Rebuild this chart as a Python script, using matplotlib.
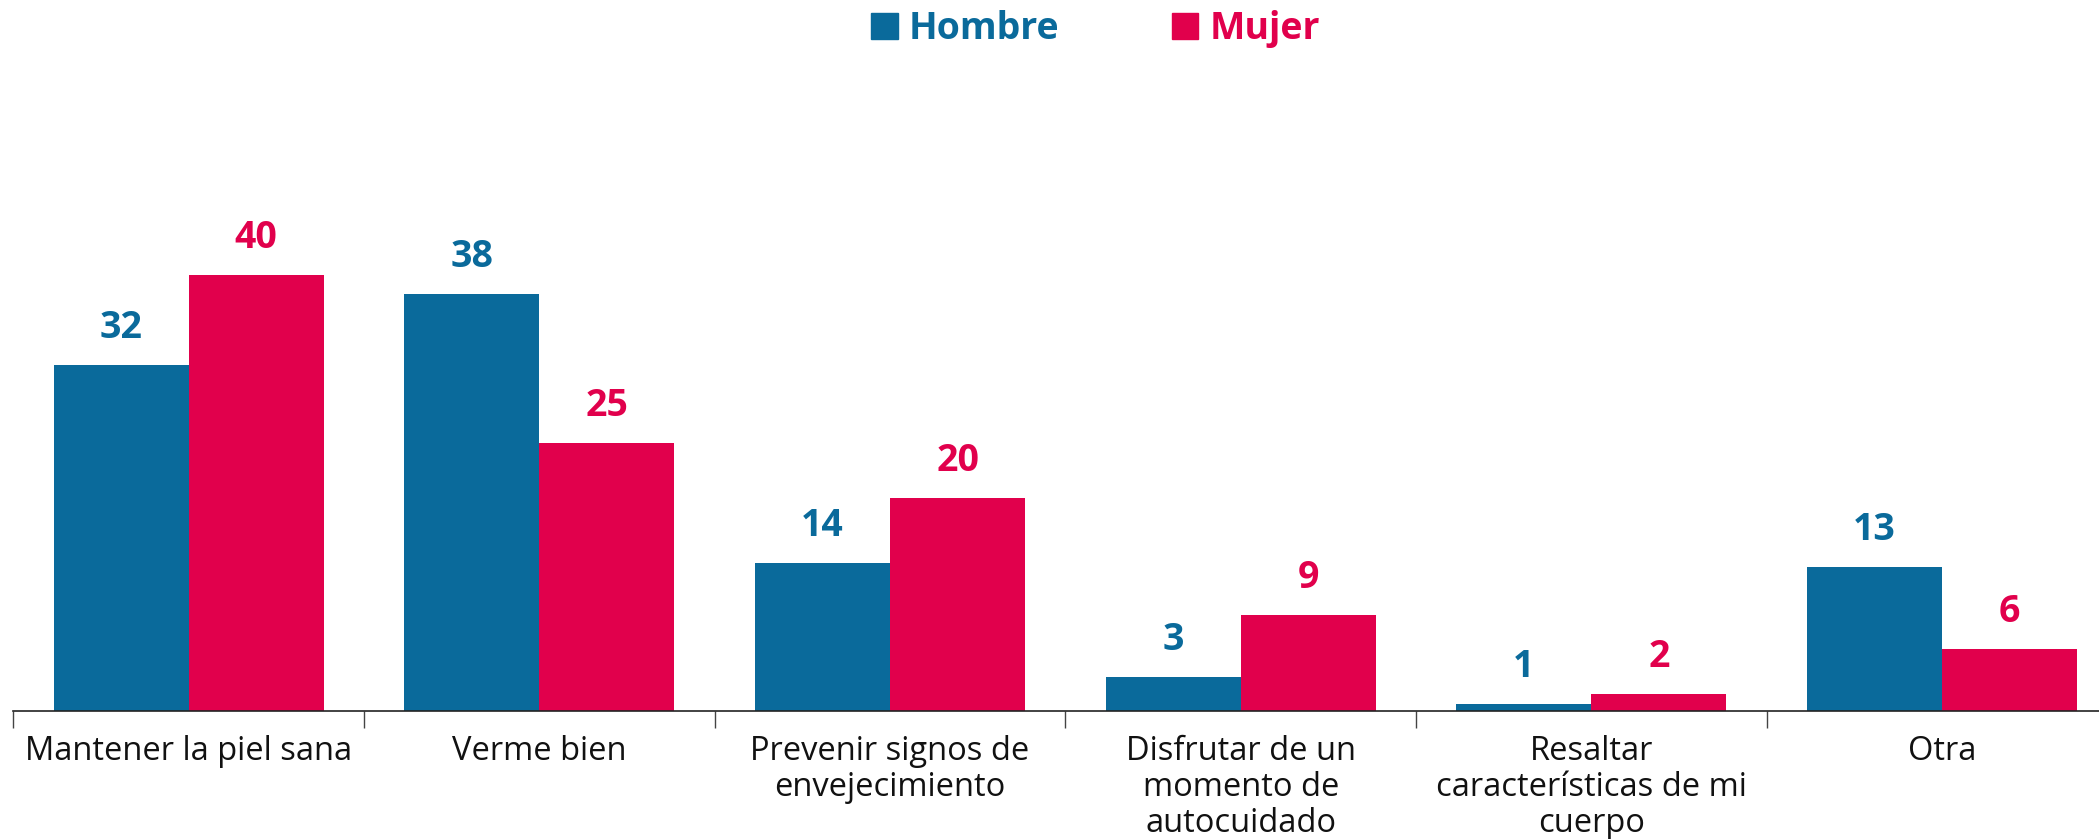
import numpy as np
import matplotlib.pyplot as plt
from matplotlib.patches import Rectangle

# data (percent)
categories = ["Mantener la piel sana", "Verme bien", "Prevenir signos de\nenvejecimiento",
              "Disfrutar de un\nmomento de\nautocuidado", "Resaltar\ncaracterísticas de mi\ncuerpo",
              "Otra"]
hombre = [31.9, 38.4, 13.6, 3.1, 0.6, 13.3]
mujer = [40.2, 24.7, 19.6, 8.8, 1.6, 5.7]

blue = "#0A6A9B"
red = "#E1004C"

plt.rcParams['font.family'] = ['Open Sans', 'DejaVu Sans']

fig = plt.figure(figsize=(20.99, 8.39), dpi=100)
ax = fig.add_axes([0.0064, 0.1526, 1.0024, 0.728])

x = np.arange(len(categories))
w = 0.385
b1 = ax.bar(x - w / 2, hombre, w, color=blue, linewidth=0)
b2 = ax.bar(x + w / 2, mujer, w, color=red, linewidth=0)

for bars, vals, col in [(b1, hombre, blue), (b2, mujer, red)]:
    for rect, v in zip(bars, vals):
        ax.annotate(f"{v:.0f}", (rect.get_x() + rect.get_width() / 2, rect.get_height()),
                    xytext=(0, 13), textcoords="offset points", ha="center", va="bottom",
                    fontsize=27, fontweight="bold", color=col)

ax.set_xlim(-0.5, 5.5)
ax.set_ylim(0, 56.3)
ax.set_yticks([])
for s in ["top", "right", "left"]:
    ax.spines[s].set_visible(False)
ax.spines["bottom"].set_color("#222222")
ax.spines["bottom"].set_linewidth(1.2)

ax.set_xticks(x)
ax.set_xticklabels(categories, fontsize=23.5, color="#111111", linespacing=1.12)
ax.tick_params(axis="x", which="major", length=0, pad=17)
ax.set_xticks(np.arange(-0.5, 6, 1), minor=True)
ax.tick_params(axis="x", which="minor", length=12, width=1, color="#444444")

handles = [Rectangle((0, 0), 1, 1, color=blue), Rectangle((0, 0), 1, 1, color=red)]
fig.legend(handles, ["Hombre", "Mujer"], loc="upper center", bbox_to_anchor=(0.522, 1.028),
           ncol=2, frameon=False, labelcolor=[blue, red], handlelength=0.7, handleheight=0.7,
           handletextpad=0.3, columnspacing=3.0,
           prop={"size": 27, "weight": "bold"})

fig.savefig("out.png", dpi=100)
